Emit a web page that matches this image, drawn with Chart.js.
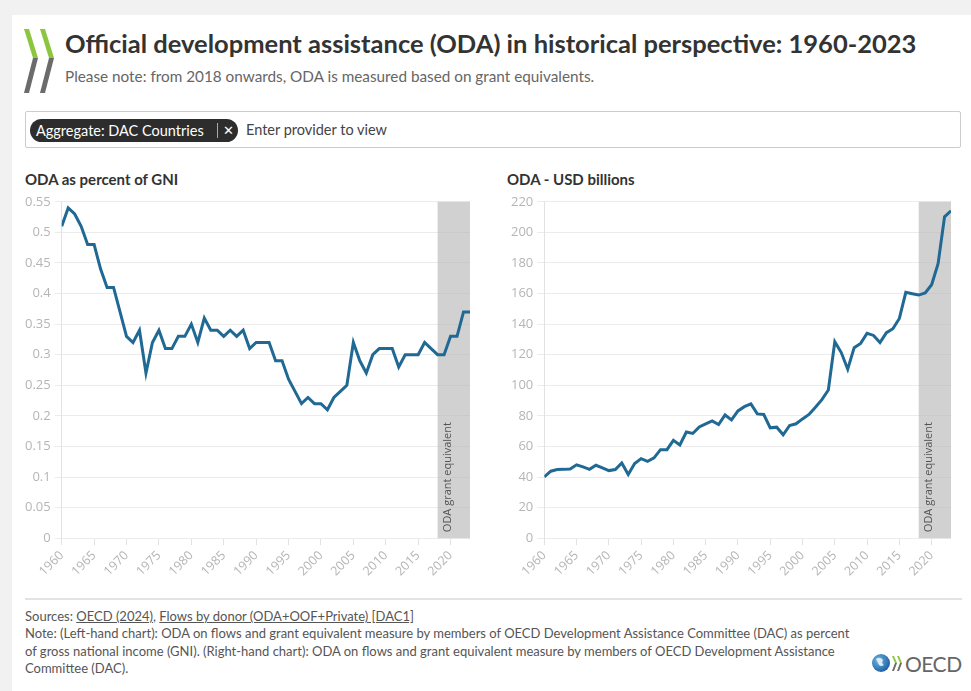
<!DOCTYPE html>
<html>
<head>
<meta charset="utf-8">
<script src="https://cdn.jsdelivr.net/npm/chart.js@4.4.1/dist/chart.umd.min.js"></script>
<style>
  body { margin: 0; width: 971px; height: 691px; overflow: hidden; background: #f1f1f1; font-family: Lato, "Open Sans", sans-serif; }
  .card { position: absolute; left: 12px; top: 15px; right: 0; bottom: 0; background: #fff; }
  .abs { position: absolute; }
  #title { left: 65px; top: 28px; font-size: 25.5px; font-weight: bold; color: #333; white-space: nowrap; }
  #subtitle { left: 65px; top: 67px; font-size: 15.3px; color: #666; white-space: nowrap; }
  #filter { left: 25px; top: 111px; width: 936px; height: 37px; border: 1px solid #ccc; border-radius: 2px; box-sizing: border-box; }
  #chip { left: 30px; top: 119px; width: 208px; height: 23px; border-radius: 12px; background: #2d2d2d; color: #fff; font-size: 14.5px; line-height: 23px; }
  #chip span { position: absolute; white-space: nowrap; }
  #placeholder { left: 246px; top: 121px; font-size: 14.5px; color: #444; white-space: nowrap; }
  .ctitle { top: 170px; font-size: 15px; font-weight: bold; color: #333; white-space: nowrap; }
  .box { position: absolute; top: 190px; height: 392px; }
  #rule { left: 25px; top: 598px; width: 937px; height: 2px; background: #e3e3e3; }
  #foot { left: 25px; top: 608px; font-size: 13px; line-height: 17.3px; color: #555; white-space: nowrap; }
  #foot u { text-decoration: underline; }
  #oecd { left: 905px; top: 651px; font-size: 21px; color: #666; letter-spacing: -0.5px; }
</style>
</head>
<body>
<div class="card"></div>

<svg class="abs" style="left:0;top:0" width="80" height="100">
  <polygon points="24,29 29,29 38,58 33,58" fill="#8cc63f"/>
  <polygon points="33,58 38,58 29,93 24,93" fill="#6b6b6b"/>
  <polygon points="40,29 45,29 54,58 49,58" fill="#8cc63f"/>
  <polygon points="49,58 54,58 45,93 40,93" fill="#6b6b6b"/>
</svg>
<div id="title" class="abs">Official development assistance (ODA) in historical perspective: 1960-2023</div>
<div id="subtitle" class="abs">Please note: from 2018 onwards, ODA is measured based on grant equivalents.</div>

<div id="filter" class="abs"></div>
<div id="chip" class="abs">
  <span style="left:6px">Aggregate: DAC Countries</span>
  <span style="left:187px;top:4px;width:1px;height:15px;background:#aaa"></span>
  <span style="left:193px;font-size:13px">✕</span>
</div>
<div id="placeholder" class="abs">Enter provider to view</div>

<div class="abs ctitle" style="left:25px">ODA as percent of GNI</div>
<div class="abs ctitle" style="left:507px">ODA - USD billions</div>

<div class="box" style="left:21px;width:459px"><canvas id="gniChart"></canvas></div>
<div class="box" style="left:507px;width:454px"><canvas id="usdChart"></canvas></div>

<div id="rule" class="abs"></div>
<div id="foot" class="abs">
  Sources: <u>OECD (2024)</u>, <u>Flows by donor (ODA+OOF+Private) [DAC1]</u><br>
  Note: (Left-hand chart): ODA on flows and grant equivalent measure by members of OECD Development Assistance Committee (DAC) as percent<br>
  of gross national income (GNI). (Right-hand chart): ODA on flows and grant equivalent measure by members of OECD Development Assistance<br>
  Committee (DAC).
</div>
<svg class="abs" style="left:870px;top:650px" width="36" height="28">
  <defs>
    <radialGradient id="globe" cx="0.35" cy="0.35" r="0.7">
      <stop offset="0" stop-color="#6fb3e0"/>
      <stop offset="1" stop-color="#1d5fa0"/>
    </radialGradient>
  </defs>
  <circle cx="11" cy="13" r="9" fill="url(#globe)"/>
  <path d="M6 9 q4 -3 7 1 q-2 3 1 5 q-3 2 -5 0 z" fill="#d8ecf7"/>
  <polygon points="22,6 24,6 27,13 25,13" fill="#8cc63f"/>
  <polygon points="25,13 27,13 24,21 22,21" fill="#6b6b6b"/>
  <polygon points="27,6 29,6 32,13 30,13" fill="#8cc63f"/>
  <polygon points="30,13 32,13 29,21 27,21" fill="#6b6b6b"/>
</svg>
<div id="oecd" class="abs">OECD</div>

<script>
// years 1960 - 2023
const years = [];
for (let y = 1960; y <= 2023; y++) years.push(y);

// ODA as percent of GNI
const odaGni = [
  0.51, 0.54, 0.53, 0.51, 0.48, 0.48, 0.44, 0.41, 0.41, 0.37,
  0.33, 0.32, 0.34, 0.27, 0.32, 0.34, 0.31, 0.31, 0.33, 0.33,
  0.35, 0.32, 0.36, 0.34, 0.34, 0.33, 0.34, 0.33, 0.34, 0.31,
  0.32, 0.32, 0.32, 0.29, 0.29, 0.26, 0.24, 0.22, 0.23, 0.22,
  0.22, 0.21, 0.23, 0.24, 0.25, 0.32, 0.29, 0.27, 0.30, 0.31,
  0.31, 0.31, 0.28, 0.30, 0.30, 0.30, 0.32, 0.31, 0.30, 0.30,
  0.33, 0.33, 0.37, 0.37
];

// ODA in USD billions
const odaUsd = [
  40.1, 43.8, 44.9, 45.0, 45.3, 48.0, 46.6, 45.0, 47.7, 46.0,
  44.2, 44.9, 49.2, 41.6, 48.8, 52.0, 50.3, 52.5, 57.9, 57.9,
  64.0, 61.0, 69.4, 68.5, 72.8, 74.8, 76.7, 74.3, 80.6, 77.4,
  83.2, 86.0, 87.8, 81.3, 80.9, 72.2, 72.6, 67.6, 73.7, 74.8,
  78.0, 80.9, 85.6, 90.6, 96.9, 128.5, 121.4, 110.5, 124.6, 127.4,
  134.0, 132.6, 127.9, 134.4, 137.0, 143.7, 160.8, 159.9, 159.0, 160.4,
  165.8, 179.5, 210.2, 214.1
];

// shaded period (grant equivalent)
const grantStart = 2018;
const grantEnd = 2023;
const grantLabel = "ODA grant equivalent";

const gniTicks = { max: 0.55, step: 0.05 };
const usdTicks = { max: 220, step: 20 };

// draws the grey band behind the line
const grantBand = {
  id: "grantBand",
  beforeDatasetsDraw(chart) {
    const { ctx, chartArea, scales } = chart;
    const x1 = scales.x.getPixelForValue(grantStart);
    const x2 = scales.x.getPixelForValue(grantEnd);
    ctx.save();
    ctx.fillStyle = "rgba(185, 185, 185, 0.65)";
    ctx.fillRect(x1, chartArea.top, x2 - x1, chartArea.bottom - chartArea.top);
    ctx.translate(x1 + 10, chartArea.bottom - 6);
    ctx.rotate(-Math.PI / 2);
    ctx.fillStyle = "#555";
    ctx.font = "11px 'Open Sans'";
    ctx.textBaseline = "middle";
    ctx.fillText(grantLabel, 0, 0);
    ctx.restore();
  }
};

function createChart(id, values, yTicks, decimals) {
  const ctx = document.getElementById(id).getContext("2d");
  return new Chart(ctx, {
    type: "line",
    data: {
      datasets: [{
        data: years.map((y, i) => ({ x: y, y: values[i] })),
        borderColor: "#1f6994",
        borderWidth: 3,
        pointRadius: 0,
        tension: 0,
        fill: false
      }]
    },
    options: {
      responsive: true,
      maintainAspectRatio: false,
      animation: false,
      layout: { padding: { top: 6, right: 10 } },
      plugins: { legend: { display: false }, tooltip: { enabled: false } },
      scales: {
        x: {
          type: "linear",
          min: 1960,
          max: 2023,
          grid: { drawOnChartArea: false, drawTicks: true, tickLength: 7, color: "#e2e2e2" },
          border: { display: false },
          ticks: {
            stepSize: 5,
            includeBounds: false,
            maxRotation: 45,
            minRotation: 45,
            color: "#b5b5b5",
            font: { family: "'Open Sans'", size: 12.5 },
            callback: v => String(v)
          }
        },
        y: {
          min: 0,
          max: yTicks.max,
          grid: { color: "#ececec", tickLength: 7 },
          border: { display: true, color: "#e2e2e2" },
          ticks: {
            stepSize: yTicks.step,
            color: "#b5b5b5",
            font: { family: "'Open Sans'", size: 13 },
            padding: 4,
            callback: v => decimals ? String(parseFloat(v.toFixed(2))) : String(v)
          }
        }
      }
    },
    plugins: [grantBand]
  });
}

createChart("gniChart", odaGni, gniTicks, true);
createChart("usdChart", odaUsd, usdTicks, false);
</script>
</body>
</html>
